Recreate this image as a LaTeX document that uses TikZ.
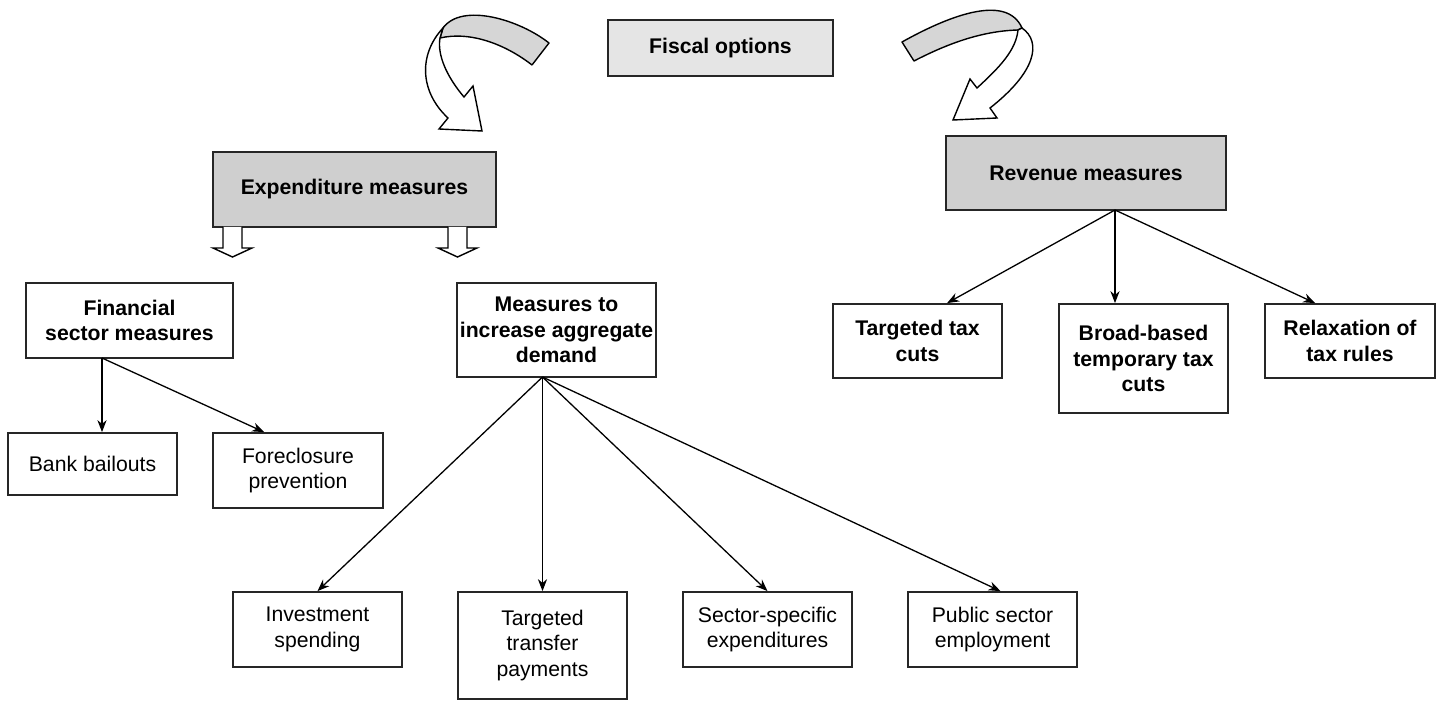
\documentclass[tikz,border=0pt]{standalone}
\usepackage{fontspec}
\setmainfont{Liberation Sans}
\usetikzlibrary{arrows.meta,calc}
\begin{document}
\begin{tikzpicture}[x=0.5pt,y=-0.5pt,
  box/.style={draw=black!85, line width=0.9pt, fill=white, align=center, inner sep=0pt, font=\fontsize{10.6pt}{12.6pt}\selectfont},
  bbox/.style={box, font=\fontsize{10.6pt}{12.6pt}\selectfont\bfseries},
  sz/.style 2 args={minimum width=#1*0.5pt, minimum height=#2*0.5pt},
  conn/.style={line width=0.65pt, -{Stealth[length=6pt,width=4.6pt]}},
  hollow/.style={draw, line width=0.7pt, fill=white, line join=miter},
  ribbon/.style={draw, line width=0.7pt, fill=black!16, line join=round},
  whitepart/.style={draw, line width=0.7pt, fill=white, line join=miter},
]
\useasboundingbox (0,0) rectangle (1437,701);

% top level
\node[bbox, sz={225}{56}, fill=black!10] (fiscal) at (720.5,48) {Fiscal options};
\node[bbox, sz={283}{75}, fill=black!19] (exp) at (354.5,189.5) {Expenditure measures};
\node[bbox, sz={280}{74}, fill=black!19] (rev) at (1086,173) {Revenue measures};

% expenditure branch
\node[bbox, sz={207}{75}] (fin) at (129.5,320.5) {Financial\\sector measures};
\node[bbox, sz={199}{94}] (meas) at (556.5,330) {Measures to\\increase aggregate\\demand};

\node[box, sz={169}{62}] (bank) at (92.5,464) {Bank bailouts};
\node[box, sz={170}{75}] (fore) at (298,470.5) {Foreclosure\\prevention};

\node[box, sz={169}{75}] (inv) at (317.5,629.5) {Investment\\spending};
\node[box, sz={169}{107}] (trans) at (542.5,645.5) {Targeted\\transfer\\payments};
\node[box, sz={169}{75}] (sect) at (767.5,629.5) {Sector-specific\\expenditures};
\node[box, sz={169}{75}] (pub) at (992.5,629.5) {Public sector\\employment};

% revenue branch
\node[bbox, sz={169}{74}] (ttc) at (917.5,341) {Targeted tax\\cuts};
\node[bbox, sz={169}{109}] (broad) at (1143.5,358.5) {Broad-based\\temporary tax\\cuts};
\node[bbox, sz={170}{74}] (relax) at (1350,341) {Relaxation of\\tax rules};

% fan sources
\coordinate (finsrc) at (102,358);
\coordinate (meassrc) at (542.5,377);
\coordinate (revsrc) at (1115,210);

\draw[conn] (finsrc) -- (finsrc |- bank.north);
\draw[conn] (finsrc) -- ($(fore.north west)+(52,0)$);

\draw[conn] (meassrc) -- (inv.north);
\draw[conn] (meassrc) -- (trans.north);
\draw[conn] (meassrc) -- (sect.north);
\draw[conn] (meassrc) -- ($(pub.north)+(8,0)$);

\draw[conn] (revsrc) -- ($(ttc.north west)+(115,0)$);
\draw[conn] (revsrc) -- (revsrc |- broad.north);
\draw[conn] (revsrc) -- ($(relax.north west)+(51,0)$);

% hollow down arrows under Expenditure measures
\coordinate (h1) at (232.5,227);
\coordinate (h2) at (457.5,227);
\foreach \h in {h1,h2}{
  \draw[hollow] ($(\h)+(-9.5,0)$) -- ++(0,21) -- ++(-10,0) -- ++(19.5,9) -- ++(19.5,-9) -- ++(-10,0) -- ++(0,-21);
}

% left curved arrow
\draw[ribbon] (549,43) .. controls (520,20) and (462,2) .. (443,28) -- (440,38)
  .. controls (470,31) and (505,44) .. (532,65) -- cycle;
\draw[whitepart] (443,28) .. controls (418,55) and (420,92) .. (448,118) -- (439,129) -- (482,131)
  -- (473,86) -- (464,97) .. controls (447,77) and (437,55) .. (440,38) -- cycle;

% right curved arrow
\draw[ribbon] (902,42) .. controls (945,18) and (1006,-8) .. (1022,28) -- (1018,30)
  .. controls (980,31) and (945,45) .. (914,61) -- cycle;
\draw[whitepart] (1022,28) .. controls (1042,42) and (1036,72) .. (990,108) -- (997,118) -- (953,120)
  -- (970,79) -- (977,88) .. controls (1000,67) and (1016,50) .. (1018,30) -- cycle;
\end{tikzpicture}
\end{document}
